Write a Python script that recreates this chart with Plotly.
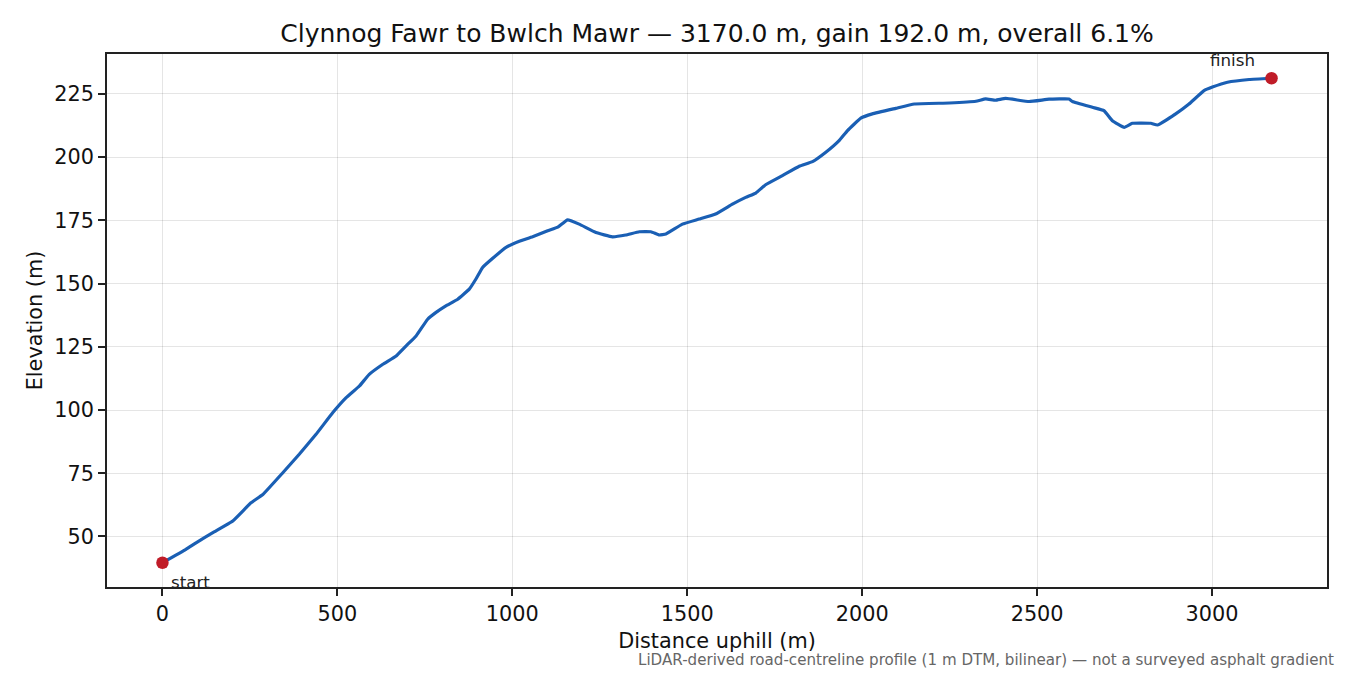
import plotly.graph_objects as go

distance_m = [0, 67, 96, 144, 201, 253, 287, 344, 391, 439, 487, 525, 563, 591, 630, 668, 696,
              725, 758, 782, 810, 844, 877, 896, 915, 944, 982, 1020, 1058, 1101, 1130, 1158,
              1191, 1239, 1286, 1324, 1363, 1396, 1420, 1439, 1486, 1534, 1581, 1629, 1667,
              1696, 1724, 1772, 1820, 1858, 1896, 1934, 1958, 1996, 2029, 2096, 2149, 2249,
              2325, 2353, 2381, 2410, 2477, 2534, 2591, 2601, 2658, 2691, 2715, 2749, 2772,
              2825, 2844, 2896, 2934, 2977, 3001, 3044, 3106, 3170]
elevation_m = [39.6, 44.9, 47.5, 51.5, 56.1, 63.3, 66.6, 75.2, 82.5, 90.4, 99.0, 104.9, 109.5,
               114.1, 118.1, 121.4, 125.3, 129.3, 135.9, 138.6, 141.2, 143.8, 147.8, 151.8,
               156.4, 160.0, 164.3, 166.7, 168.5, 170.9, 172.3, 175.2, 173.5, 170.2, 168.5,
               169.2, 170.5, 170.5, 169.2, 169.6, 173.5, 175.5, 177.5, 181.4, 184.1, 185.8,
               189.1, 192.7, 196.4, 198.2, 201.9, 206.5, 210.5, 215.4, 217.1, 219.3, 221.0,
               221.4, 222.1, 223.0, 222.5, 223.2, 222.0, 222.9, 223.0, 222.0, 219.7, 218.4,
               214.4, 211.8, 213.4, 213.4, 212.7, 217.1, 221.0, 226.3, 227.7, 229.6, 230.7,
               231.2]
endpoint_labels = ["start", "finish"]
x_ticks = [0, 500, 1000, 1500, 2000, 2500, 3000]
y_ticks = [50, 75, 100, 125, 150, 175, 200, 225]

title = "Clynnog Fawr to Bwlch Mawr — 3170.0 m, gain 192.0 m, overall 6.1%"
x_title = "Distance uphill (m)"
y_title = "Elevation (m)"
footnote = "LiDAR-derived road-centreline profile (1 m DTM, bilinear) — not a surveyed asphalt gradient"

FONT = "DejaVu Sans"

fig = go.Figure()
fig.add_trace(go.Scatter(
    x=distance_m, y=elevation_m, mode="lines",
    line=dict(color="#1a5fb4", width=3.2, shape="spline", smoothing=0.3),
    showlegend=False, hoverinfo="skip"))
fig.add_trace(go.Scatter(
    x=[distance_m[0], distance_m[-1]], y=[elevation_m[0], elevation_m[-1]],
    mode="markers", marker=dict(color="#c01c28", size=12.5),
    showlegend=False, hoverinfo="skip"))

fig.add_annotation(x=distance_m[0], y=elevation_m[0], text=endpoint_labels[0],
                   showarrow=False, xanchor="left", yanchor="middle",
                   xshift=7, yshift=-19, font=dict(family=FONT, size=16.7, color="#222"))
fig.add_annotation(x=distance_m[-1], y=elevation_m[-1], text=endpoint_labels[1],
                   showarrow=False, xanchor="right", yanchor="middle",
                   xshift=-15, yshift=18, font=dict(family=FONT, size=16.7, color="#222"))
fig.add_annotation(xref="paper", yref="paper", x=1.0074, y=-0.137, text=footnote,
                   showarrow=False, xanchor="right", yanchor="middle",
                   font=dict(family=FONT, size=15.1, color="#666"))

span_x = distance_m[-1] - distance_m[0]
ymin, ymax = min(elevation_m), max(elevation_m)
span_y = ymax - ymin

axis_common = dict(showline=True, linecolor="#222", linewidth=1.6, mirror=True,
                   ticks="outside", ticklen=7, tickwidth=1.6, tickcolor="#222",
                   showgrid=True, gridcolor="rgba(0,0,0,0.10)", gridwidth=1.2,
                   zeroline=False, tickfont=dict(family=FONT, size=20.8, color="#111"))

fig.update_layout(
    width=1342, height=667,
    paper_bgcolor="white", plot_bgcolor="white",
    margin=dict(l=99, r=23, t=46, b=88),
    title=dict(text=title, xref="paper", x=0.5, xanchor="center", y=0.9625, yanchor="middle",
               font=dict(family=FONT, size=25, color="#111")),
    xaxis=dict(range=[distance_m[0] - 0.05 * span_x, distance_m[-1] + 0.05 * span_x],
               tickvals=x_ticks,
               title=dict(text=x_title, font=dict(family=FONT, size=20.8, color="#111"), standoff=9),
               **axis_common),
    yaxis=dict(range=[ymin - 0.05 * span_y, ymax + 0.05 * span_y],
               tickvals=y_ticks,
               title=dict(text=y_title, font=dict(family=FONT, size=20.8, color="#111"), standoff=6),
               **axis_common),
    font=dict(family=FONT),
)

fig.write_html("out.html")
